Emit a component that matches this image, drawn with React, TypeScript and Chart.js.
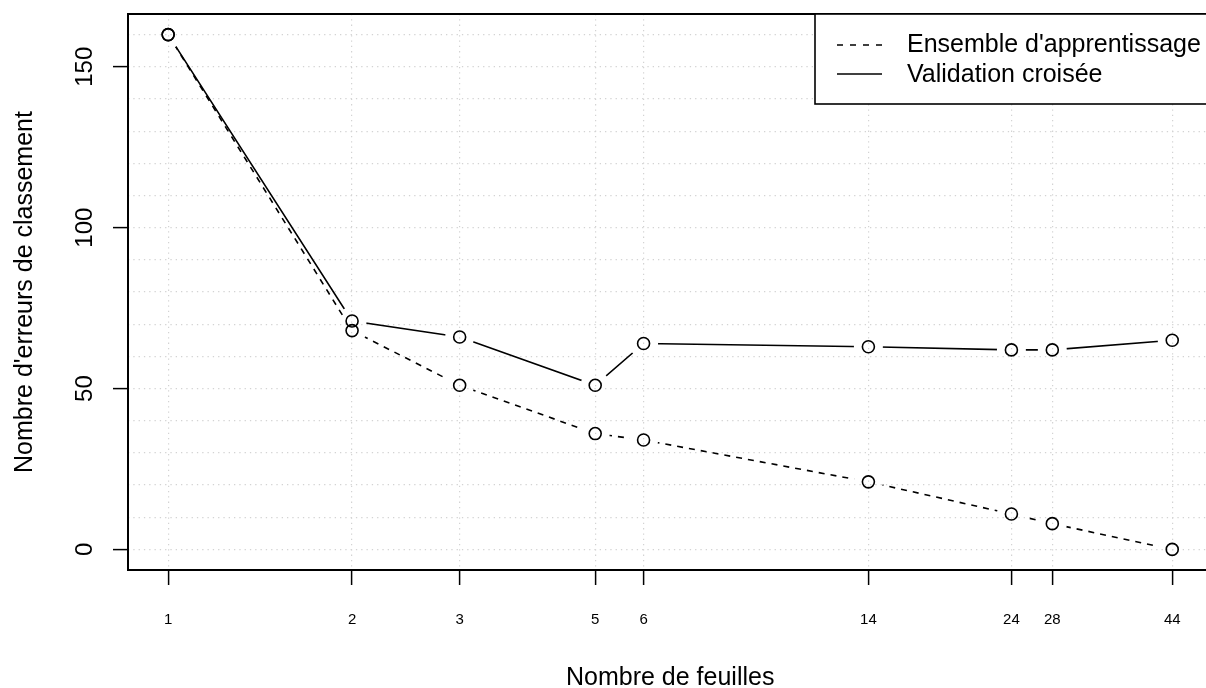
import React, { useEffect, useRef } from "react";
import { Chart, registerables } from "chart.js";

Chart.register(...registerables);

// ---- data ----
const leafCounts = [1, 2, 3, 5, 6, 14, 24, 28, 44];
const trainErrors = [160, 68, 51, 36, 34, 21, 11, 8, 0];
const cvErrors = [160, 71, 66, 51, 64, 63, 62, 62, 65];
const seriesNames = ["Ensemble d'apprentissage", "Validation croisée"];
const yTickLabels = [0, 50, 100, 150];
const yGridValues = [0, 10, 20, 30, 40, 50, 60, 70, 80, 90, 100, 110, 120, 130, 140, 150, 160];
const xTitle = "Nombre de feuilles";
const yTitle = "Nombre d'erreurs de classement";

const FONT = '"Liberation Sans", Arial, Helvetica, sans-serif';
const GAP = 14.5;

// R-style 4% axis padding
const allY = [...trainErrors, ...cvErrors];
const yLo = Math.min(...allY);
const yHi = Math.max(...allY);
const yPad = 0.04 * (yHi - yLo);
const lxLo = Math.log10(Math.min(...leafCounts));
const lxHi = Math.log10(Math.max(...leafCounts));
const lxPad = 0.04 * (lxHi - lxLo);

const toPts = (ys: number[]) => leafCounts.map((x, i) => ({ x, y: ys[i] }));

const gapPlugin = {
  id: "gapPlugin",
  beforeDatasetDraw(chart: any, args: any) {
    const ctx = chart.ctx;
    ctx.save();
    if (args.index === 0 || args.index === 1) {
      const pts = args.meta.data;
      ctx.beginPath();
      ctx.rect(0, 0, chart.width, chart.height);
      for (const p of pts) {
        ctx.moveTo(p.x + GAP, p.y);
        ctx.arc(p.x, p.y, GAP, 0, Math.PI * 2);
      }
      ctx.clip("evenodd");
    }
  },
  afterDatasetDraw(chart: any) {
    chart.ctx.restore();
  },
  afterDraw(chart: any) {
    const ctx = chart.ctx;
    const { left, right, top, bottom } = chart.chartArea;
    const yScale = chart.scales.y;
    ctx.save();
    // box
    ctx.strokeStyle = "#000";
    ctx.lineWidth = 2;
    ctx.setLineDash([]);
    ctx.strokeRect(left, top, right - left, bottom - top);

    // legend
    const lgLeft = 815;
    const lgBottom = 104;
    ctx.fillStyle = "#fff";
    ctx.fillRect(lgLeft, top, right - lgLeft, lgBottom - top);
    ctx.lineWidth = 1.6;
    ctx.strokeRect(lgLeft, top, right - lgLeft, lgBottom - top);
    const rows = [
      { y: 45, dash: [6, 7], base: 52, label: seriesNames[0] },
      { y: 74, dash: [], base: 82, label: seriesNames[1] },
    ];
    ctx.font = "25px " + FONT;
    ctx.textAlign = "left";
    ctx.textBaseline = "alphabetic";
    for (const r of rows) {
      ctx.beginPath();
      ctx.setLineDash(r.dash);
      ctx.lineWidth = 1.6;
      ctx.moveTo(837, r.y);
      ctx.lineTo(882, r.y);
      ctx.stroke();
      ctx.fillStyle = "#000";
      ctx.fillText(r.label, 907, r.base);
    }
    ctx.setLineDash([]);

    // y tick labels (rotated)
    ctx.font = "24px " + FONT;
    ctx.textAlign = "center";
    ctx.fillStyle = "#000";
    for (const v of yTickLabels) {
      const py = yScale.getPixelForValue(v);
      ctx.save();
      ctx.translate(92, py);
      ctx.rotate(-Math.PI / 2);
      ctx.fillText(String(v), 0, 0);
      ctx.restore();
    }

    // axis titles
    ctx.font = "25px " + FONT;
    ctx.textAlign = "center";
    ctx.fillText(xTitle, (left + right) / 2, 685);
    ctx.save();
    ctx.translate(32, (top + bottom) / 2);
    ctx.rotate(-Math.PI / 2);
    ctx.fillText(yTitle, 0, 0);
    ctx.restore();
    ctx.restore();
  },
};

export default function App() {
  const ref = useRef<HTMLCanvasElement>(null);
  useEffect(() => {
    if (!ref.current) return;
    const lineBase = {
      borderColor: "#000",
      borderWidth: 1.6,
      pointRadius: 0,
      pointHoverRadius: 0,
      fill: false,
      tension: 0,
      order: 2,
    };
    const pointBase = {
      showLine: false,
      pointRadius: 6,
      pointHoverRadius: 6,
      pointBorderWidth: 1.6,
      pointBorderColor: "#000",
      pointBackgroundColor: "rgba(0,0,0,0)",
      borderColor: "#000",
      order: 1,
    };
    const chart = new Chart(ref.current, {
      type: "line",
      data: {
        datasets: [
          { ...lineBase, label: seriesNames[0], data: toPts(trainErrors), borderDash: [6, 6] },
          { ...lineBase, label: seriesNames[1], data: toPts(cvErrors) },
          { ...pointBase, label: seriesNames[0] + " (points)", data: toPts(trainErrors) },
          { ...pointBase, label: seriesNames[1] + " (points)", data: toPts(cvErrors) },
        ],
      } as any,
      options: {
        responsive: false,
        animation: false,
        devicePixelRatio: 1,
        layout: { padding: { top: 14, right: 7, left: 0, bottom: 0 } },
        plugins: { legend: { display: false }, tooltip: { enabled: false } },
        scales: {
          x: {
            type: "logarithmic",
            min: Math.pow(10, lxLo - lxPad),
            max: Math.pow(10, lxHi + lxPad),
            afterBuildTicks: (axis: any) => {
              axis.ticks = leafCounts.map((v) => ({ value: v }));
            },
            afterFit: (axis: any) => {
              axis.height = 118;
            },
            ticks: {
              autoSkip: false,
              maxRotation: 0,
              minRotation: 0,
              padding: 26,
              color: "#000",
              font: { family: FONT, size: 15 },
              callback: (v: any) => String(v),
            },
            grid: {
              color: "#d3d3d3",
              lineWidth: 1.2,
              tickLength: 15,
              tickWidth: 1.5,
              tickColor: "#000",
            },
            border: { display: false, dash: [1.3, 4] },
          },
          y: {
            type: "linear",
            min: yLo - yPad,
            max: yHi + yPad,
            afterBuildTicks: (axis: any) => {
              axis.ticks = yGridValues.map((v) => ({ value: v }));
            },
            afterFit: (axis: any) => {
              axis.width = 128;
            },
            ticks: { display: false },
            grid: {
              color: "#d3d3d3",
              lineWidth: 1.2,
              tickLength: 15,
              tickWidth: 1.5,
              tickColor: (c: any) =>
                c.tick && yTickLabels.includes(c.tick.value) ? "#000" : "rgba(0,0,0,0)",
            },
            border: { display: false, dash: [1.3, 4] },
          },
        },
      } as any,
      plugins: [gapPlugin],
    });
    return () => chart.destroy();
  }, []);
  return (
    <div
      style={{
        position: "fixed",
        left: 0,
        top: 0,
        width: 1206,
        height: 688,
        overflow: "hidden",
        background: "#fff",
      }}
    >
      <canvas ref={ref} width={1220} height={688} style={{ display: "block", width: 1220, height: 688 }} />
    </div>
  );
}
